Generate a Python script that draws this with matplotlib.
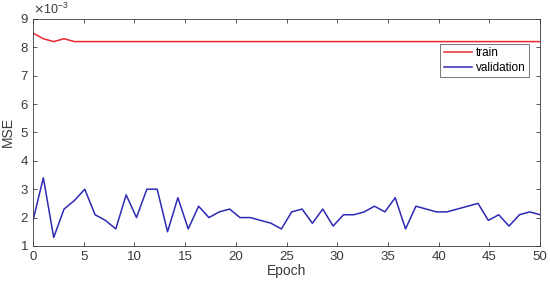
import numpy as np
import matplotlib
matplotlib.use("Agg")
import matplotlib.pyplot as plt

# MATLAB-like look
plt.rcParams['font.family'] = ['Liberation Sans', 'DejaVu Sans']
plt.rcParams['font.size'] = 9

# 50 epochs spread over 0..50
n_epochs = 50
epochs = np.linspace(0, 50, n_epochs)

train_mse = [8.5, 8.3, 8.2, 8.3, 8.2] + [8.2] * 45
val_mse = [1.9, 3.4, 1.3, 2.3, 2.6, 3.0, 2.1, 1.9, 1.6, 2.8,
           2.0, 3.0, 3.0, 1.5, 2.7, 1.6, 2.4, 2.0, 2.2, 2.3,
           2.0, 2.0, 1.9, 1.8, 1.6, 2.2, 2.3, 1.8, 2.3, 1.7,
           2.1, 2.1, 2.2, 2.4, 2.2, 2.7, 1.6, 2.4, 2.3, 2.2,
           2.2, 2.3, 2.4, 2.5, 1.9, 2.1, 1.7, 2.1, 2.2, 2.1]

x_ticks = [0, 5, 10, 15, 20, 25, 30, 35, 40, 45, 50]
y_ticks = [1, 2, 3, 4, 5, 6, 7, 8, 9]

fig = plt.figure(figsize=(5.5, 2.86), dpi=100)
ax = fig.add_axes([0.06, 0.14, 0.922, 0.794])

ax.plot(epochs, train_mse, color='#e8282e', lw=1.1, label='train')
ax.plot(epochs, val_mse, color='#2e2ab4', lw=1.1, label='validation')

ax.set_xlim(0, 50)
ax.set_ylim(1, 9)
ax.set_xticks(x_ticks)
ax.set_yticks(y_ticks)

grey = '#3a3a3a'
for s in ax.spines.values():
    s.set_color(grey)
    s.set_linewidth(0.6)
ax.tick_params(direction='in', top=True, right=True, colors=grey,
               length=3, width=0.6, labelsize=9.5)
ax.set_xlabel('Epoch', color=grey, fontsize=10, labelpad=1)
ax.set_ylabel('MSE', color=grey, fontsize=10, labelpad=4)

# exponent label like MATLAB
ax.text(0.0, 1.01, r'$\times\mathregular{10^{-3}}$', transform=ax.transAxes,
        ha='left', va='bottom', color=grey, fontsize=9)

leg = ax.legend(loc='upper right', bbox_to_anchor=(0.978, 0.89), frameon=True,
                fancybox=False, fontsize=8.5, handlelength=2.4,
                borderpad=0.3, labelspacing=0.2, handletextpad=0.3,
                borderaxespad=0)
leg.get_frame().set_edgecolor(grey)
leg.get_frame().set_linewidth(0.6)

fig.savefig('out.png', dpi=100)
